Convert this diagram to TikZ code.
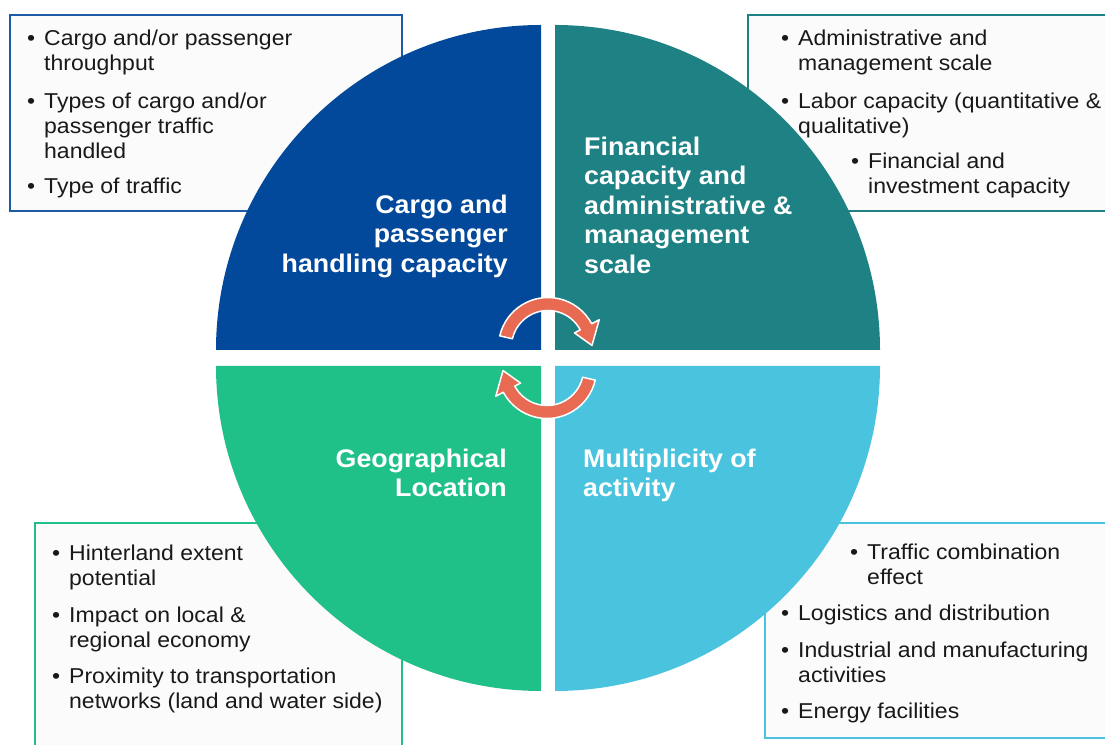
\documentclass[tikz,border=0pt]{standalone}
\usepackage{fontspec}
\newfontfamily\itemfont[FakeStretch=1.07]{Liberation Sans}
\newfontfamily\quadfont[FakeStretch=1.05]{Liberation Sans}
\definecolor{cargoblue}{RGB}{3,73,155}
\definecolor{financeteal}{RGB}{30,129,131}
\definecolor{geogreen}{RGB}{32,192,137}
\definecolor{activitycyan}{RGB}{74,195,222}
\definecolor{arrowred}{RGB}{232,106,82}
\newcommand\pointmark{\llap{\textbullet\hspace{9pt}}}
\begin{document}
\begin{tikzpicture}[x=1pt,y=1pt,
    infobox/.style={fill=black!1.5, line width=2.2pt},
    pointtext/.style={anchor=north west, inner sep=0pt, align=left, text=black!90,
        font=\itemfont\fontsize{21.5}{25}\selectfont},
    quadtitle/.style={inner sep=0pt, text=white,
        font=\quadfont\bfseries\fontsize{25.5}{29.5}\selectfont},
    turnarrow/.style={fill=arrowred, draw=white, line width=1.5pt, line join=round}]
    \clip (0,0) rectangle (1105,744);

    % boxes behind the circle
    \draw[infobox, draw=cargoblue!90] (10,533) rectangle (402,729);
    \draw[infobox, draw=financeteal] (748,533) rectangle (1115,729);
    \draw[infobox, draw=geogreen] (35,-10) rectangle (402,221);
    \draw[infobox, draw=activitycyan] (765,6) rectangle (1115,221);

    % four quarters, r=325
    \fill[cargoblue] (541,394)--(216,394) arc[start angle=180,end angle=90,radius=325]--cycle;
    \fill[financeteal] (555,394)--(555,719) arc[start angle=90,end angle=0,radius=325]--cycle;
    \fill[geogreen] (541,378)--(541,53) arc[start angle=270,end angle=180,radius=325]--cycle;
    \fill[activitycyan] (555,378)--(880,378) arc[start angle=0,end angle=-90,radius=325]--cycle;

    % turning arrows in the middle
    \foreach \cx/\cy/\rot in {548/397/0, 547/375/180}
        \path[turnarrow, shift={(\cx,\cy)}, rotate=\rot]
            (167:49.5) arc[start angle=167,end angle=28,radius=49.5]
            --(28:58)--(2:44)--(28:30)
            --(28:36.5) arc[start angle=28,end angle=167,radius=36.5]--cycle;

    % titles
    \node[quadtitle, anchor=north east, align=right] (cargotitle) at (508,551.65)
        {\strut Cargo and\\passenger\\handling capacity};
    \node[quadtitle, anchor=north west, align=left] (financetitle) at (584,609.65)
        {\strut Financial\\capacity and\\administrative \&\\management\\scale};
    \node[quadtitle, anchor=north east, align=right] (geotitle) at (507,297.65)
        {\strut Geographical\\Location};
    \node[quadtitle, anchor=north west, align=left] (activitytitle) at (583,297.65)
        {\strut Multiplicity of\\activity};

    % top left points
    \node[pointtext] (cargo1) at (44,716.5) {\pointmark\strut Cargo and/or passenger\\throughput};
    \node[pointtext] (cargo2) at (44,653.5) {\pointmark\strut Types of cargo and/or\\passenger traffic\\handled};
    \node[pointtext] (cargo3) at (44,568.5) {\pointmark\strut Type of traffic};

    % top right points
    \node[pointtext] (finance1) at (798,716.5) {\pointmark\strut Administrative and\\management scale};
    \node[pointtext] (finance2) at (798,653.5) {\pointmark\strut Labor capacity (quantitative \&\\qualitative)};
    \node[pointtext] (finance3) at (868,593.5) {\pointmark\strut Financial and\\investment capacity};

    % bottom left points
    \node[pointtext] (geo1) at (69,201.5) {\pointmark\strut Hinterland extent\\potential};
    \node[pointtext] (geo2) at (69,139.5) {\pointmark\strut Impact on local \&\\regional economy};
    \node[pointtext] (geo3) at (69,78.5) {\pointmark\strut Proximity to transportation\\networks (land and water side)};

    % bottom right points
    \node[pointtext] (activity1) at (867,202.5) {\pointmark\strut Traffic combination\\effect};
    \node[pointtext] (activity2) at (798,141.5) {\pointmark\strut Logistics and distribution};
    \node[pointtext] (activity3) at (798,104.5) {\pointmark\strut Industrial and manufacturing\\activities};
    \node[pointtext] (activity4) at (798,43.5) {\pointmark\strut Energy facilities};
\end{tikzpicture}
\end{document}
